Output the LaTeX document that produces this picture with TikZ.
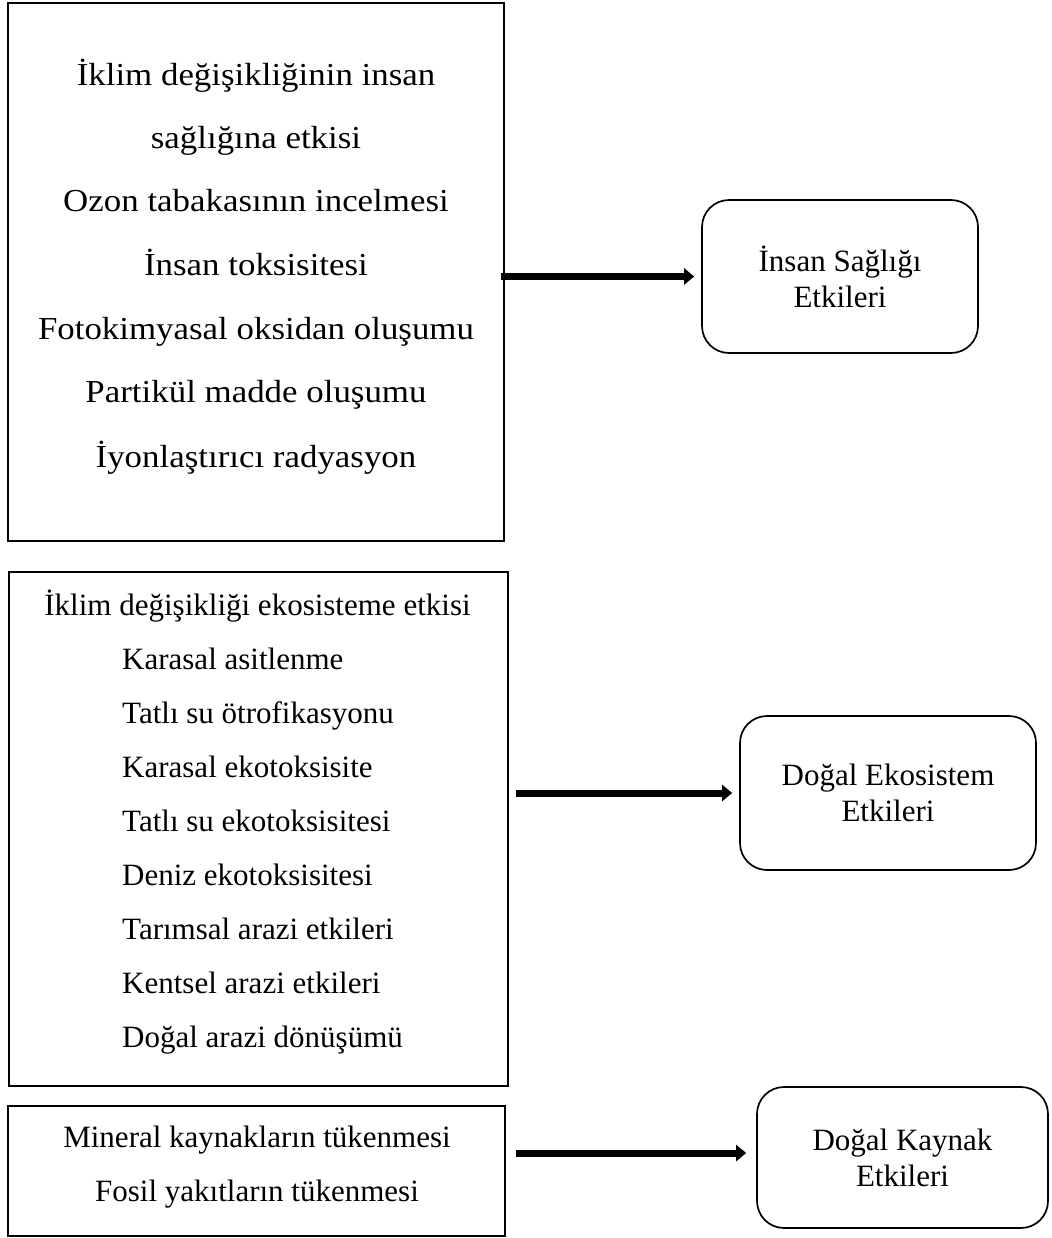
\documentclass[tikz,border=0pt]{standalone}
\usepackage{fontspec}
\setmainfont{Liberation Serif}
% a slightly wider face for the first list
\newfontfamily\widefont[FakeStretch=1.09]{Liberation Serif}
\usetikzlibrary{arrows.meta}
\begin{document}
\begin{tikzpicture}[x=1pt,y=-1pt,
  listbox/.style={draw, line width=1.7pt, inner sep=0pt},
  effbox/.style={draw, line width=1.7pt, rounded corners=27pt, inner sep=0pt,
    align=center, font=\fontsize{31}{36}\selectfont},
  wideline/.style={anchor=base, inner sep=0pt, font=\widefont\fontsize{32}{38}\selectfont},
  line/.style={anchor=base, inner sep=0pt, font=\fontsize{31}{36}\selectfont},
  leftline/.style={line, anchor=base west},
  conn/.style={line width=7pt, -{Triangle[length=10pt,width=16pt]}}]
\useasboundingbox (0,0) rectangle (1051,1238);

% left-hand lists of impact categories
\node[listbox, minimum width=496pt, minimum height=538pt] (b1) at (256,272) {};
\node[listbox, minimum width=499pt, minimum height=514pt] (b2) at (258.5,829) {};
\node[listbox, minimum width=497pt, minimum height=130pt] (b3) at (256.5,1171) {};

\node[wideline] (t11) at (256,86)  {İklim değişikliğinin insan};
\node[wideline] (t12) at (256,149) {sağlığına etkisi};
\node[wideline] (t13) at (256,212) {Ozon tabakasının incelmesi};
\node[wideline] (t14) at (256,276) {İnsan toksisitesi};
\node[wideline] (t15) at (256,339) {Fotokimyasal oksidan oluşumu};
\node[wideline] (t16) at (256,402) {Partikül madde oluşumu};
\node[wideline] (t17) at (256,467) {İyonlaştırıcı radyasyon};

\node[line] (t21) at (257.5,615) {İklim değişikliği ekosisteme etkisi};
\node[leftline] (t22) at (122,669.1) {Karasal asitlenme};
\node[leftline] (t23) at (122,723.2) {Tatlı su ötrofikasyonu};
\node[leftline] (t24) at (122,777.3) {Karasal ekotoksisite};
\node[leftline] (t25) at (122,831.4) {Tatlı su ekotoksisitesi};
\node[leftline] (t26) at (122,885.5) {Deniz ekotoksisitesi};
\node[leftline] (t27) at (122,939.6) {Tarımsal arazi etkileri};
\node[leftline] (t28) at (122,993.7) {Kentsel arazi etkileri};
\node[leftline] (t29) at (122,1047.8) {Doğal arazi dönüşümü};

\node[line] (t31) at (257,1147) {Mineral kaynakların tükenmesi};
\node[line] (t32) at (257,1201) {Fosil yakıtların tükenmesi};

% right-hand impact groups
\node[effbox, minimum width=276pt, minimum height=153pt] (r1) at (840,276.5) {İnsan Sağlığı\\Etkileri};
\node[effbox, minimum width=296pt, minimum height=154pt] (r2) at (888,793) {Doğal Ekosistem\\Etkileri};
\node[effbox, minimum width=291pt, minimum height=141pt] (r3) at (902.5,1157.5) {Doğal Kaynak\\Etkileri};

% the third arrow runs a little above the middle of its target
\coordinate (r3in) at ([yshift=4.5pt]r3.west);

% connectors
\draw[conn, shorten <=-4pt, shorten >=7pt] (b1.east |- r1.west) -- (r1.west);
\draw[conn, shorten <=7pt, shorten >=7pt] (b2.east |- r2.west) -- (r2.west);
\draw[conn, shorten <=10pt, shorten >=10pt] (b3.east |- r3in) -- (r3in);
\end{tikzpicture}
\end{document}
